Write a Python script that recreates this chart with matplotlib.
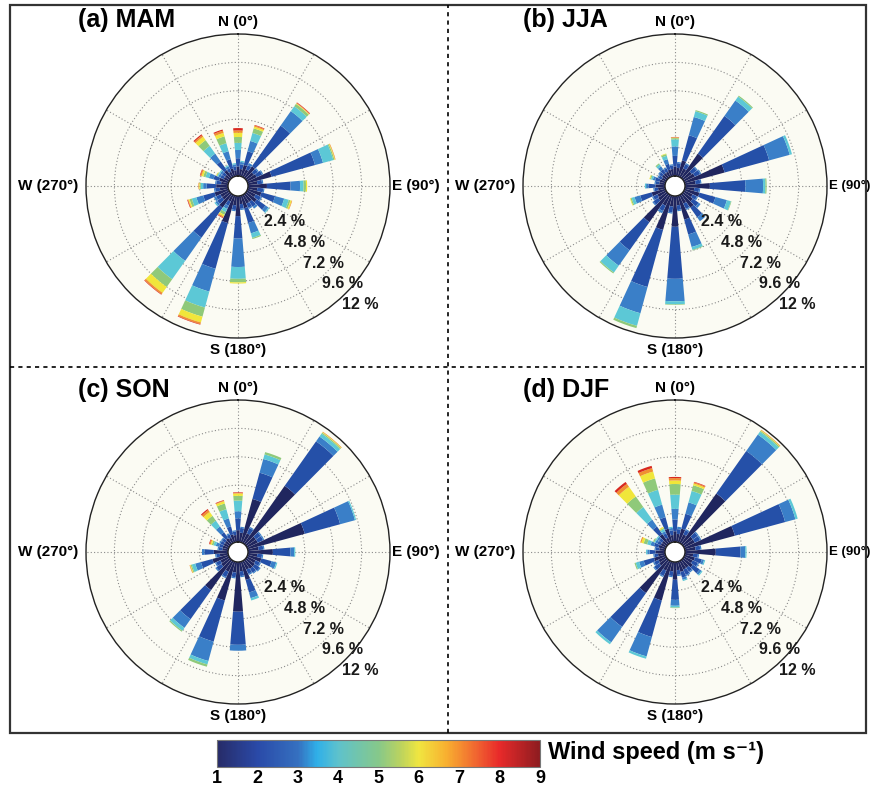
import numpy as np
import matplotlib
matplotlib.use('Agg')
import matplotlib.pyplot as plt
from matplotlib.colors import LinearSegmentedColormap, Normalize
from matplotlib.lines import Line2D
from matplotlib.patches import Rectangle
import matplotlib.cm as cm

NARROW = ['Liberation Sans Narrow', 'Liberation Sans', 'DejaVu Sans']
WIDE = ['Liberation Sans', 'DejaVu Sans']

# wind directions (deg, 10 deg sectors)
directions = np.arange(0, 360, 10)
speed_bins = ['1-2', '2-3', '3-4', '4-5', '5-6', '6-7', '7-8', '8-9']
bin_colors = ['#20265f', '#2550a8', '#3a7fc8', '#5cc8d6',
              '#8fc97a', '#f0e63a', '#f09030', '#d8281e']

# frequency (%) per direction, split by speed bin
mam = [
    [0.8, 0.7, 0.7, 0.6, 0.5, 0.35, 0.2, 0.2],
    [0.6, 0.4, 0.2, 0.1, 0, 0, 0, 0],
    [1.0, 1.2, 0.9, 0.7, 0.4, 0.15, 0.1, 0.05],
    [0.7, 0.4, 0.2, 0, 0, 0, 0, 0],
    [1.2, 4.2, 1.5, 0.5, 0.25, 0.05, 0.05, 0.05],
    [0.8, 0.4, 0.1, 0, 0, 0, 0, 0],
    [0.9, 0.5, 0.1, 0, 0, 0, 0, 0],
    [2.1, 3.8, 0.7, 0.9, 0.1, 0.05, 0.05, 0],
    [0.8, 0.4, 0.1, 0, 0, 0, 0, 0],
    [1.6, 2.0, 0.8, 0.3, 0.2, 0.1, 0, 0],
    [0.8, 0.5, 0.1, 0, 0, 0, 0, 0],
    [1.2, 1.2, 0.8, 0.4, 0.15, 0.1, 0.05, 0],
    [0.8, 0.5, 0.1, 0, 0, 0, 0, 0],
    [1.1, 0.9, 0.3, 0.1, 0, 0, 0, 0],
    [0.8, 0.5, 0.2, 0, 0, 0, 0, 0],
    [0.8, 0.4, 0.1, 0, 0, 0, 0, 0],
    [1.1, 1.3, 0.9, 0.4, 0.1, 0, 0, 0],
    [0.7, 0.4, 0.1, 0, 0, 0, 0, 0],
    [1.7, 1.9, 2.4, 1.0, 0.3, 0.1, 0, 0],
    [0.8, 0.4, 0.1, 0, 0, 0, 0, 0],
    [2.4, 4.0, 2.0, 1.4, 0.8, 0.5, 0.15, 0.05],
    [0.6, 0.4, 0.3, 0.3, 0.25, 0.15, 0.1, 0.05],
    [1.4, 3.1, 2.4, 1.9, 0.8, 0.6, 0.15, 0.05],
    [0.8, 0.5, 0.2, 0.1, 0, 0, 0, 0],
    [0.8, 0.4, 0.2, 0, 0, 0, 0, 0],
    [1.2, 1.0, 0.6, 0.4, 0.2, 0.1, 0.05, 0.05],
    [0.7, 0.4, 0.1, 0, 0, 0, 0, 0],
    [1.0, 0.8, 0.3, 0.2, 0.1, 0.05, 0.05, 0],
    [0.6, 0.4, 0.1, 0, 0, 0, 0, 0],
    [0.8, 0.5, 0.4, 0.3, 0.2, 0.15, 0.1, 0.05],
    [0.5, 0.3, 0.2, 0.1, 0.05, 0.05, 0, 0],
    [0.5, 0.3, 0.2, 0.1, 0, 0, 0, 0],
    [0.8, 0.9, 0.8, 0.8, 0.6, 0.35, 0.15, 0.1],
    [0.5, 0.3, 0.2, 0.1, 0, 0, 0, 0],
    [0.7, 0.8, 0.7, 0.7, 0.6, 0.3, 0.2, 0.1],
    [0.5, 0.3, 0.2, 0.1, 0, 0, 0, 0],
]

jja = [
    [0.8, 0.9, 0.8, 0.6, 0.1, 0.05, 0.02, 0.03],
    [0.7, 0.4, 0.1, 0, 0, 0, 0, 0],
    [1.4, 2.2, 1.6, 0.5, 0.1, 0, 0, 0],
    [0.8, 0.4, 0.1, 0, 0, 0, 0, 0],
    [2.5, 3.9, 1.6, 0.4, 0.1, 0, 0, 0],
    [0.9, 0.5, 0.1, 0, 0, 0, 0, 0],
    [1.0, 0.5, 0.1, 0, 0, 0, 0, 0],
    [3.5, 3.9, 1.8, 0.2, 0, 0, 0, 0],
    [0.9, 0.4, 0.1, 0, 0, 0, 0, 0],
    [2.1, 3.0, 1.5, 0.2, 0.1, 0, 0, 0],
    [0.8, 0.4, 0.1, 0, 0, 0, 0, 0],
    [1.3, 1.4, 1.0, 0.35, 0.05, 0, 0, 0],
    [0.8, 0.4, 0.1, 0, 0, 0, 0, 0],
    [1.0, 0.6, 0.2, 0, 0, 0, 0, 0],
    [1.4, 1.0, 0.4, 0, 0, 0, 0, 0],
    [0.8, 0.5, 0.1, 0, 0, 0, 0, 0],
    [2.1, 1.3, 1.1, 0.25, 0.05, 0, 0, 0],
    [0.8, 0.4, 0.1, 0, 0, 0, 0, 0],
    [2.6, 4.4, 1.9, 0.25, 0.05, 0, 0, 0],
    [0.9, 0.5, 0.1, 0, 0, 0, 0, 0],
    [3.0, 5.0, 2.3, 1.1, 0.2, 0, 0, 0],
    [1.0, 0.5, 0.2, 0, 0, 0, 0, 0],
    [2.9, 2.9, 1.6, 0.7, 0.1, 0, 0, 0],
    [0.9, 0.5, 0.1, 0, 0, 0, 0, 0],
    [0.8, 0.4, 0.1, 0, 0, 0, 0, 0],
    [1.2, 1.0, 0.5, 0.25, 0.1, 0.05, 0, 0],
    [0.6, 0.3, 0.1, 0, 0, 0, 0, 0],
    [0.8, 0.6, 0.2, 0.1, 0, 0, 0, 0],
    [0.5, 0.3, 0.1, 0, 0, 0, 0, 0],
    [0.5, 0.4, 0.2, 0.15, 0.1, 0.05, 0, 0],
    [0.4, 0.3, 0.1, 0, 0, 0, 0, 0],
    [0.5, 0.3, 0.1, 0, 0, 0, 0, 0],
    [0.5, 0.4, 0.3, 0.2, 0.1, 0, 0, 0],
    [0.5, 0.3, 0.1, 0, 0, 0, 0, 0],
    [0.6, 0.5, 0.4, 0.3, 0.15, 0.05, 0, 0],
    [0.6, 0.3, 0.1, 0, 0, 0, 0, 0],
]

son = [
    [1.0, 1.0, 0.6, 0.9, 0.4, 0.2, 0.05, 0.05],
    [0.8, 0.4, 0.1, 0, 0, 0, 0, 0],
    [3.8, 2.3, 1.2, 0.4, 0.2, 0, 0, 0],
    [0.9, 0.5, 0.1, 0, 0, 0, 0, 0],
    [6.0, 4.6, 0.5, 0.3, 0.1, 0.05, 0.05, 0],
    [1.0, 0.5, 0.1, 0, 0, 0, 0, 0],
    [1.0, 0.5, 0.1, 0, 0, 0, 0, 0],
    [5.0, 3.1, 1.3, 0.1, 0, 0, 0, 0],
    [0.9, 0.4, 0.1, 0, 0, 0, 0, 0],
    [2.1, 1.5, 0.3, 0.1, 0, 0, 0, 0],
    [0.8, 0.4, 0.1, 0, 0, 0, 0, 0],
    [1.2, 0.9, 0.4, 0.1, 0, 0, 0, 0],
    [0.8, 0.4, 0.1, 0, 0, 0, 0, 0],
    [0.9, 0.5, 0.1, 0, 0, 0, 0, 0],
    [0.9, 0.4, 0.1, 0, 0, 0, 0, 0],
    [0.8, 0.4, 0.1, 0, 0, 0, 0, 0],
    [1.6, 1.1, 0.5, 0.2, 0, 0, 0, 0],
    [0.8, 0.4, 0.1, 0, 0, 0, 0, 0],
    [4.2, 2.8, 0.5, 0, 0, 0, 0, 0],
    [0.9, 0.4, 0.1, 0, 0, 0, 0, 0],
    [3.4, 3.6, 1.7, 0.3, 0.2, 0, 0, 0],
    [1.0, 0.5, 0.1, 0, 0, 0, 0, 0],
    [3.1, 3.0, 0.9, 0.3, 0.1, 0, 0, 0],
    [0.9, 0.5, 0.1, 0, 0, 0, 0, 0],
    [0.8, 0.4, 0.1, 0, 0, 0, 0, 0],
    [1.4, 1.0, 0.5, 0.3, 0.1, 0.05, 0.05, 0],
    [0.7, 0.3, 0.1, 0, 0, 0, 0, 0],
    [1.2, 0.8, 0.2, 0, 0, 0, 0, 0],
    [0.5, 0.3, 0.1, 0, 0, 0, 0, 0],
    [0.5, 0.3, 0.3, 0.2, 0.15, 0.1, 0.1, 0.05],
    [0.5, 0.3, 0.1, 0, 0, 0, 0, 0],
    [0.5, 0.3, 0.1, 0, 0, 0, 0, 0],
    [0.6, 0.6, 0.6, 0.6, 0.5, 0.4, 0.2, 0.1],
    [0.5, 0.3, 0.1, 0, 0, 0, 0, 0],
    [0.7, 0.7, 0.7, 0.8, 0.5, 0.2, 0.05, 0.05],
    [0.6, 0.3, 0.1, 0, 0, 0, 0, 0],
]

djf = [
    [0.9, 1.0, 0.9, 1.2, 0.9, 0.3, 0.2, 0.1],
    [0.7, 0.4, 0.2, 0, 0, 0, 0, 0],
    [1.2, 1.3, 1.0, 1.0, 0.5, 0.15, 0.1, 0.05],
    [0.8, 0.4, 0.1, 0, 0, 0, 0, 0],
    [5.2, 4.4, 1.7, 0.3, 0.1, 0.05, 0.05, 0],
    [1.0, 0.5, 0.1, 0, 0, 0, 0, 0],
    [1.0, 0.5, 0.1, 0, 0, 0, 0, 0],
    [4.4, 4.4, 0.9, 0.2, 0, 0, 0, 0],
    [0.9, 0.4, 0.1, 0, 0, 0, 0, 0],
    [2.6, 2.1, 0.4, 0.1, 0, 0, 0, 0],
    [0.7, 0.4, 0.1, 0, 0, 0, 0, 0],
    [0.9, 0.6, 0.2, 0.1, 0, 0, 0, 0],
    [0.8, 0.5, 0.1, 0, 0, 0, 0, 0],
    [1.0, 0.7, 0.2, 0.1, 0, 0, 0, 0],
    [0.8, 0.4, 0.1, 0, 0, 0, 0, 0],
    [0.8, 0.5, 0.1, 0, 0, 0, 0, 0],
    [0.9, 0.5, 0.2, 0.1, 0, 0, 0, 0],
    [0.7, 0.4, 0.1, 0, 0, 0, 0, 0],
    [1.5, 1.7, 0.5, 0.15, 0.05, 0, 0, 0],
    [0.8, 0.4, 0.1, 0, 0, 0, 0, 0],
    [3.4, 3.2, 1.7, 0.2, 0, 0, 0, 0],
    [0.9, 0.5, 0.1, 0, 0, 0, 0, 0],
    [3.4, 3.5, 1.6, 0.2, 0, 0, 0, 0],
    [0.8, 0.5, 0.1, 0, 0, 0, 0, 0],
    [0.7, 0.4, 0.1, 0, 0, 0, 0, 0],
    [1.0, 0.9, 0.4, 0.3, 0.1, 0, 0, 0],
    [0.6, 0.3, 0.1, 0, 0, 0, 0, 0],
    [0.8, 0.5, 0.2, 0.1, 0, 0, 0, 0],
    [0.5, 0.3, 0.1, 0, 0, 0, 0, 0],
    [0.6, 0.4, 0.3, 0.3, 0.3, 0.2, 0.1, 0],
    [0.5, 0.3, 0.2, 0.1, 0.1, 0, 0, 0],
    [0.5, 0.3, 0.2, 0.1, 0, 0, 0, 0],
    [1.0, 0.8, 0.7, 1.3, 1.1, 1.0, 0.3, 0.2],
    [0.5, 0.4, 0.2, 0.2, 0.1, 0.1, 0, 0],
    [1.2, 1.0, 1.1, 1.3, 1.0, 0.6, 0.3, 0.2],
    [0.6, 0.4, 0.2, 0.1, 0, 0, 0, 0],
]

titles = ['(a) MAM', '(b) JJA', '(c) SON', '(d) DJF']
seasons = [mam, jja, son, djf]
ring_values = [2.4, 4.8, 7.2, 9.6, 12]
ring_labels = ['2.4 %', '4.8 %', '7.2 %', '9.6 %', '12 %']
cbar_ticks = [1, 2, 3, 4, 5, 6, 7, 8, 9]

# colour map of the speed bar
cmap_stops = [(0.0, '#272b68'), (0.125, '#2a4aa8'), (0.25, '#3570c0'),
              (0.31, '#30b0e8'), (0.375, '#5ec2cc'), (0.5, '#86c88a'),
              (0.57, '#bcd35e'), (0.625, '#f0e640'), (0.71, '#f8b030'),
              (0.81, '#f06030'), (0.875, '#e82a2a'), (1.0, '#8e1c20')]
wind_cmap = LinearSegmentedColormap.from_list('wind', cmap_stops)

W, H = 877, 787
fig = plt.figure(figsize=(W / 100, H / 100), dpi=100)

centers = [(238, 186), (675, 186), (238, 552), (675, 552)]
R = 152
rmax = 12.0
hole = 10.0
rorigin = -rmax * hole / (R - hole)

for k in range(4):
    cx, cy = centers[k]
    ax = fig.add_axes([(cx - R) / W, 1 - (cy + R) / H, 2 * R / W, 2 * R / H],
                      projection='polar')
    ax.set_theta_zero_location('N')
    ax.set_theta_direction(-1)
    ax.set_facecolor('#fbfbf3')
    ax.set_axisbelow(True)

    data = np.array(seasons[k])
    theta = np.radians(directions)
    bottom = np.zeros(len(directions))
    for b in range(len(speed_bins)):
        ax.bar(theta, data[:, b], width=np.radians(9.6), bottom=bottom,
               color=bin_colors[b], linewidth=0, zorder=2)
        bottom = bottom + data[:, b]

    ax.set_ylim(0, rmax)
    ax.set_rorigin(rorigin)
    ax.set_xticks(np.radians(np.arange(0, 360, 30)))
    ax.set_xticklabels([])
    ax.set_yticks(ring_values[:-1])
    ax.set_yticklabels([])
    ax.grid(True, color='#8a8a8a', linestyle=(0, (1, 2)), linewidth=0.8)
    for s in ax.spines.values():
        s.set_color('#222222')
        s.set_linewidth(1.0)

    for v, lab in zip(ring_values, ring_labels):
        ax.text(np.radians(137), v, lab, ha='left', va='top', fontsize=11.5,
                fontweight='bold', family=NARROW, color='#1a1a1a', zorder=5,
                clip_on=False)

    ax.text(0.5, 1.015, 'N (0\u00b0)', transform=ax.transAxes, ha='center',
            va='bottom', fontsize=11, fontweight='bold', family=NARROW)
    ax.text(0.5, -0.015, 'S (180\u00b0)', transform=ax.transAxes, ha='center',
            va='top', fontsize=11, fontweight='bold', family=NARROW)
    ax.text(1.008, 0.5, 'E (90\u00b0)', transform=ax.transAxes, ha='left',
            va='center', fontsize=11 if k % 2 == 0 else 9.5,
            fontweight='bold', family=NARROW)
    ax.text(-0.025, 0.5, 'W (270\u00b0)', transform=ax.transAxes, ha='right',
            va='center', fontsize=11, fontweight='bold', family=NARROW)

    tx = 78 if k % 2 == 0 else 523
    ty = 20 if k < 2 else 390
    fig.text(tx / W, 1 - ty / H, titles[k], ha='left', va='center',
             fontsize=18, fontweight='bold', family=WIDE)

# outer frame and dashed dividers
fig.add_artist(Rectangle((10 / W, 1 - 733 / H), 856 / W, 728 / H,
                         transform=fig.transFigure, fill=False,
                         edgecolor='#333333', linewidth=1.6))
fig.add_artist(Line2D([448 / W, 448 / W], [1 - 733 / H, 1 - 5 / H],
                      transform=fig.transFigure, color='black',
                      linestyle=(0, (2.5, 2.5)), linewidth=1.2))
fig.add_artist(Line2D([10 / W, 866 / W], [1 - 367 / H, 1 - 367 / H],
                      transform=fig.transFigure, color='black',
                      linestyle=(0, (2.5, 2.5)), linewidth=1.2))

# colour bar
cax = fig.add_axes([217 / W, 1 - 767 / H, 323 / W, 27 / H])
sm = cm.ScalarMappable(norm=Normalize(1, 9), cmap=wind_cmap)
cb = fig.colorbar(sm, cax=cax, orientation='horizontal', ticks=cbar_ticks)
cb.outline.set_edgecolor('#777777')
cb.outline.set_linewidth(0.8)
cax.tick_params(length=0, pad=2)
for t in cax.get_xticklabels():
    t.set_fontsize(13)
    t.set_fontweight('bold')
    t.set_family(NARROW)
fig.text(548 / W, 1 - 752 / H, 'Wind speed (m s\u207b\u00b9)', ha='left',
         va='center', fontsize=17, fontweight='bold', family=NARROW)

fig.savefig('out.png', dpi=100)
